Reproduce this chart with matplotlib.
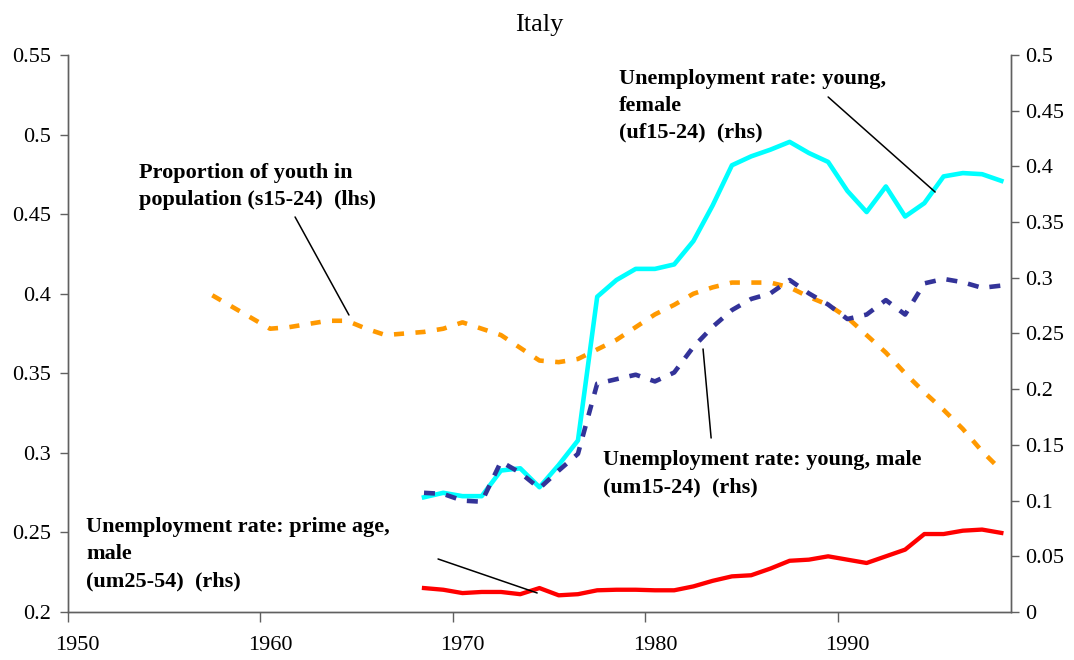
import numpy as np
import matplotlib.pyplot as plt

# data (annual, Italy)
years_youth = np.arange(1957, 1999)
youth_share = [0.399, 0.392, 0.385, 0.378, 0.379, 0.381, 0.383, 0.383, 0.378, 0.374,
               0.375, 0.376, 0.378, 0.382, 0.378, 0.374, 0.366, 0.358, 0.357, 0.359,
               0.365, 0.371, 0.379, 0.387, 0.393, 0.400, 0.404, 0.407, 0.407, 0.407,
               0.404, 0.398, 0.393, 0.385, 0.374, 0.363, 0.350, 0.338, 0.327, 0.315,
               0.301, 0.289]

years_u = np.arange(1968, 1999)
uf15_24 = [0.103, 0.107, 0.104, 0.104, 0.127, 0.129, 0.112, 0.132, 0.154, 0.283,
           0.298, 0.308, 0.308, 0.312, 0.333, 0.365, 0.401, 0.409, 0.415, 0.422,
           0.412, 0.404, 0.378, 0.359, 0.382, 0.355, 0.367, 0.391, 0.394, 0.393,
           0.387]
um15_24 = [0.107, 0.106, 0.100, 0.099, 0.135, 0.125, 0.111, 0.127, 0.142, 0.205,
           0.209, 0.213, 0.207, 0.215, 0.238, 0.256, 0.271, 0.281, 0.286, 0.298,
           0.286, 0.276, 0.263, 0.267, 0.280, 0.267, 0.295, 0.299, 0.296, 0.291,
           0.293]
um25_54 = [0.0215, 0.020, 0.017, 0.018, 0.018, 0.016, 0.0215, 0.015, 0.016, 0.0195,
           0.020, 0.020, 0.0195, 0.0195, 0.023, 0.028, 0.032, 0.033, 0.039, 0.046,
           0.047, 0.050, 0.047, 0.044, 0.050, 0.056, 0.070, 0.070, 0.073, 0.074,
           0.071]

left_ticks = [0.2, 0.25, 0.3, 0.35, 0.4, 0.45, 0.5, 0.55]
right_ticks = [0, 0.05, 0.1, 0.15, 0.2, 0.25, 0.3, 0.35, 0.4, 0.45, 0.5]
decades = [1950, 1960, 1970, 1980, 1990]

plt.rcParams['font.family'] = ['Liberation Serif', 'DejaVu Serif']
axis_grey = '#606060'

fig = plt.figure(figsize=(10.74, 6.6), dpi=100)
ax = fig.add_axes([0.0633, 0.0727, 0.878, 0.844])
ax2 = ax.twinx()

ax.plot(years_youth, youth_share, color='#FF9900', lw=3.3, dashes=(2.2, 2.5))
ax2.plot(years_u, uf15_24, color='#00FFFF', lw=3.3)
ax2.plot(years_u, um15_24, color='#333399', lw=3.3, dashes=(2.4, 2.4))
ax2.plot(years_u, um25_54, color='#FF0000', lw=3.1)

ax.set_xlim(1949.5, 1998.5)
ax.set_ylim(0.2, 0.55)
ax2.set_ylim(0, 0.5)

ax.set_yticks(left_ticks)
ax.set_yticklabels([f'{v:g}' for v in left_ticks])
ax2.set_yticks(right_ticks)
ax2.set_yticklabels([f'{v:g}' for v in right_ticks])

# category-style x axis: ticks between years, labels centred on the year
ax.set_xticks(decades)
ax.set_xticklabels([str(d) for d in decades])
ax.set_xticks([d - 0.5 for d in decades], minor=True)
ax.tick_params(axis='x', which='major', length=0, pad=17, labelsize=16)
ax.tick_params(axis='x', which='minor', length=7, width=1, color=axis_grey, direction='out')
ax.tick_params(axis='y', length=6, width=1, color=axis_grey, pad=6, labelsize=16)
ax2.tick_params(axis='y', length=6, width=1, color=axis_grey, pad=4, labelsize=16)

for a in (ax, ax2):
    a.spines['top'].set_visible(False)
    for s in ('left', 'right', 'bottom'):
        a.spines[s].set_color(axis_grey)
        a.spines[s].set_linewidth(1)

ax.set_title('Italy', fontsize=19, pad=17)

# va='baseline' on multi-line text anchors the last line's baseline
label_kw = dict(fontsize=16, fontweight='bold', va='baseline', ha='left', linespacing=1.46)
ax2.text(1978.14, 0.4255, 'Unemployment rate: young,\nfemale\n(uf15-24)  (rhs)', **label_kw)
ax2.text(1953.19, 0.3654, 'Proportion of youth in\npopulation (s15-24)  (lhs)', **label_kw)
ax2.text(1977.31, 0.1077, 'Unemployment rate: young, male\n(um15-24)  (rhs)', **label_kw)
ax2.text(1950.44, 0.0233, 'Unemployment rate: prime age,\nmale\n(um25-54)  (rhs)', **label_kw)

leader = dict(arrowstyle='-', color='black', lw=1.1, shrinkA=0, shrinkB=0)
ax2.annotate('', xy=(1994.56, 0.377), xytext=(1989.0, 0.4623), arrowprops=leader)
ax2.annotate('', xy=(1964.1, 0.2666), xytext=(1961.3, 0.3546), arrowprops=leader)
ax2.annotate('', xy=(1982.5, 0.2361), xytext=(1982.92, 0.1562), arrowprops=leader)
ax2.annotate('', xy=(1973.88, 0.0171), xytext=(1968.73, 0.0476), arrowprops=leader)

fig.savefig('out.png', dpi=100)
